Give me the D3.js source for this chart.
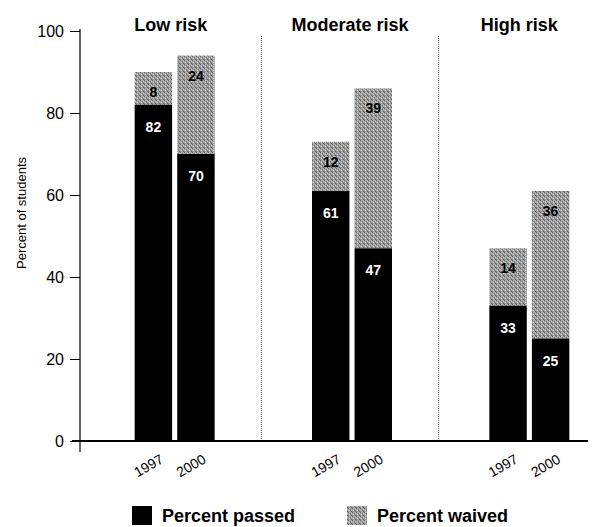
<!DOCTYPE html>
<html>
<head>
<meta charset="utf-8">
<script src="https://cdn.jsdelivr.net/npm/d3@7"></script>
<style>
  html, body { margin: 0; padding: 0; background: #fff; }
  svg { display: block; font-family: "Liberation Sans", Arial, sans-serif; }
</style>
</head>
<body>
<svg id="chart" width="595" height="527"></svg>
<script>
// ---- data ----
const groups = ["Low risk", "Moderate risk", "High risk"];
const years = ["1997", "2000"];
const passed = [[82, 70], [61, 47], [33, 25]];
const waived = [[8, 24], [12, 39], [14, 36]];
const yTicks = [0, 20, 40, 60, 80, 100];
const yTitle = "Percent of students";
const seriesNames = ["Percent passed", "Percent waived"];

const svg = d3.select("#chart");

// pattern for waived (halftone gray)
const defs = svg.append("defs");
const pat = defs.append("pattern").attr("id", "halftone")
  .attr("patternUnits", "userSpaceOnUse").attr("width", 4).attr("height", 4);
pat.append("rect").attr("width", 4).attr("height", 4).attr("fill", "#a4a4a4");
[[0,0,"#5e5e5e"],[2,1,"#747474"],[1,2,"#cfcfcf"],[3,3,"#5a5a5a"],[3,1,"#c4c4c4"],[0,3,"#888"],[2,2,"#7a7a7a"],[1,0,"#bdbdbd"]]
  .forEach(([x, yy, c]) => pat.append("rect").attr("x", x).attr("y", yy).attr("width", 1).attr("height", 1).attr("fill", c));

// scales
const y = d3.scaleLinear().domain([0, 100]).range([441, 31]);
const x0 = d3.scaleBand().domain(groups).range([86, 618]);
const x1 = d3.scaleBand().domain(years).range([-40, 40]).paddingInner(0.12);
const gc = g => x0(g) + x0.bandwidth() / 2;

// dividers
const divs = groups.slice(1).map(g => x0(g) - 2);
svg.selectAll(".divider").data(divs).enter().append("line")
  .attr("x1", d => d).attr("x2", d => d)
  .attr("y1", 36).attr("y2", y(0))
  .attr("stroke", "#555").attr("stroke-width", 1).attr("stroke-dasharray", "1,1");

// panel titles
const bounds = [80, ...divs, 600];
svg.selectAll(".ptitle").data(groups).enter().append("text")
  .attr("x", (d, i) => (bounds[i] + bounds[i + 1]) / 2)
  .attr("y", 31)
  .attr("text-anchor", "middle")
  .attr("font-size", 18).attr("font-weight", "bold")
  .text(d => d);

// bars
groups.forEach((g, gi) => {
  years.forEach((yr, yi) => {
    const bx = gc(g) + x1(yr);
    const bw = x1.bandwidth();
    const p = passed[gi][yi], w = waived[gi][yi];
    svg.append("rect").attr("x", bx).attr("width", bw)
      .attr("y", y(p + w)).attr("height", y(p) - y(p + w))
      .attr("fill", "url(#halftone)");
    svg.append("rect").attr("x", bx).attr("width", bw)
      .attr("y", y(p)).attr("height", y(0) - y(p))
      .attr("fill", "#000");
    svg.append("text").attr("x", bx + bw / 2).attr("y", y(p) + 27)
      .attr("text-anchor", "middle").attr("font-size", 14).attr("font-weight", "bold")
      .attr("fill", "#fff").text(p);
    svg.append("text").attr("x", bx + bw / 2).attr("y", y(p + w) + 25)
      .attr("text-anchor", "middle").attr("font-size", 14).attr("font-weight", "bold")
      .attr("fill", "#000").text(w);
    // year label
    svg.append("text")
      .attr("transform", `translate(${bx + bw / 2 + 11},462) rotate(-30)`)
      .attr("text-anchor", "end").attr("font-size", 14)
      .text(yr);
  });
});

// y axis
const yAxis = d3.axisLeft(y).tickValues(yTicks).tickSize(10).tickPadding(6);
const ga = svg.append("g").attr("transform", "translate(80,0)").call(yAxis);
ga.select(".domain").remove();
ga.selectAll("text").attr("font-size", 16).attr("font-family", "Liberation Sans, Arial, sans-serif").attr("fill", "#000");
ga.selectAll("line").attr("stroke", "#000");
svg.append("line").attr("x1", 80).attr("x2", 80).attr("y1", y(100) - 2).attr("y2", 452)
  .attr("stroke", "#000").attr("stroke-width", 1.2);
// baseline
svg.append("line").attr("x1", 72).attr("x2", 588).attr("y1", y(0)).attr("y2", y(0))
  .attr("stroke", "#000").attr("stroke-width", 2);

// y title
svg.append("text").attr("transform", `translate(26,213) rotate(-90)`)
  .attr("text-anchor", "middle").attr("font-size", 13).text(yTitle);

// legend
const legX = [132, 347];
const legFill = ["#000", "url(#halftone)"];
seriesNames.forEach((s, i) => {
  svg.append("rect").attr("x", legX[i]).attr("y", 506).attr("width", 20).attr("height", 19).attr("fill", legFill[i]);
  svg.append("text").attr("x", legX[i] + 30).attr("y", 522)
    .attr("font-size", 18).attr("font-weight", "bold").text(s);
});
</script>
</body>
</html>
